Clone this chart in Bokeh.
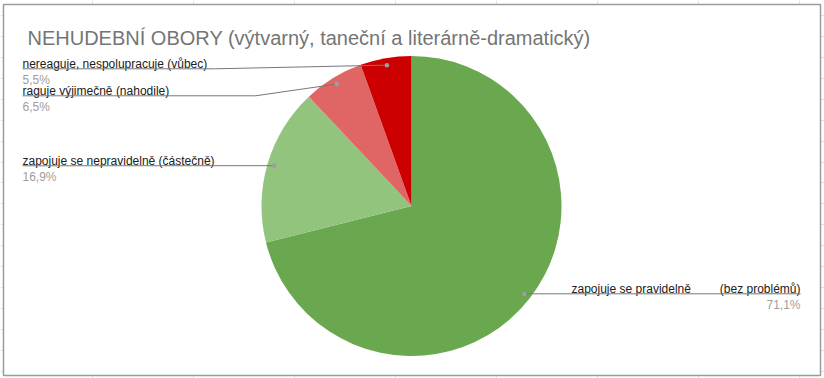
import math
from bokeh.plotting import figure
from bokeh.models import Range1d, FixedTicker, ColumnDataSource
from bokeh.core.properties import value
from bokeh.embed import file_html
from bokeh.resources import INLINE

# ---------------- data ----------------
title = "NEHUDEBNÍ OBORY (výtvarný, taneční a literárně-dramatický)"
categories = [
    "zapojuje se pravidelně (bez problémů)",
    "zapojuje se nepravidelně (částečně)",
    "raguje výjimečně (nahodile)",
    "nereaguje, nespolupracuje (vůbec)",
]
shares = [71.1, 16.9, 6.5, 5.5]
colors = ["#6aa84f", "#93c47d", "#e06666", "#cc0000"]

# ---------------- layout (screen px) ----------------
W, H = 824, 378
FONT = "Liberation Sans"
CX, CY, R = 411, 205.5, 150
DOT_R = 143
# per category: (text block left, text block right, underline y, knee x, side)
LABEL_LAYOUT = [
    (571, 800, 293.3, None, "right"),
    (22, None, 165.3, None, "left"),
    (22, None, 95.3, 255, "left"),
    (22, None, 68.3, 215, "left"),
]


def sy(y):
    return H - y


p = figure(width=W, height=H, x_range=Range1d(0, W), y_range=Range1d(0, H),
           min_border=0, toolbar_location=None, output_backend="svg",
           x_axis_location=None, y_axis_location=None)
p.outline_line_color = None
p.background_fill_color = "white"
p.border_fill_color = "white"

# spreadsheet gridlines behind the chart
p.xgrid.ticker = FixedTicker(ticks=[92 + 101 * k for k in range(-1, 9)])
p.ygrid.ticker = FixedTicker(ticks=[sy(57 + 20.9 * k) for k in range(-3, 17)])
p.xgrid.grid_line_color = "#e0e0e0"
p.ygrid.grid_line_color = "#e0e0e0"

# chart box
p.quad(left=3, right=820, top=sy(4), bottom=sy(375), fill_color="white",
       line_color="#9b9b9b", line_width=1.5)

# pie
total = sum(shares)
starts, ends, mids = [], [], []
cum = 0.0
for v in shares:
    a0 = math.pi / 2 - 2 * math.pi * cum / total
    cum += v
    a1 = math.pi / 2 - 2 * math.pi * cum / total
    starts.append(a0)
    ends.append(a1)
    mids.append((a0 + a1) / 2)

src = ColumnDataSource(dict(x=[CX] * len(shares), y=[sy(CY)] * len(shares),
                            start=starts, end=ends, color=colors))
p.wedge(x="x", y="y", radius=R, start_angle="start", end_angle="end",
        direction="clock", fill_color="color", line_color=None, source=src)

# leader lines, dots and labels
dot_x = [CX + DOT_R * math.cos(a) for a in mids]
dot_y = [sy(CY) + DOT_R * math.sin(a) for a in mids]

xs, ys = [], []
for i, (x0, x1, ly, knee, side) in enumerate(LABEL_LAYOUT):
    pct = f"{shares[i]:.1f}".replace(".", ",") + "%"
    if side == "right":
        xs.append([dot_x[i], x1])
        ys.append([sy(ly), sy(ly)])
        left_part, right_part = categories[i].split(" (")
        p.text(x=[x0], y=[sy(ly - 5)], text=[left_part], text_align="left",
               text_baseline="alphabetic", text_font=value(FONT),
               text_font_size="12px", text_color="#202020")
        p.text(x=[x1], y=[sy(ly - 5)], text=["(" + right_part], text_align="right",
               text_baseline="alphabetic", text_font=value(FONT),
               text_font_size="12px", text_color="#202020")
        p.text(x=[x1], y=[sy(ly + 11.5)], text=[pct], text_align="right",
               text_baseline="alphabetic", text_font=value(FONT),
               text_font_size="12px", text_color="#9e9e9e")
    else:
        if knee is None:
            xs.append([x0, dot_x[i]])
            ys.append([sy(ly), dot_y[i]])
        else:
            xs.append([x0, knee, dot_x[i]])
            ys.append([sy(ly), sy(ly), dot_y[i]])
        p.text(x=[x0], y=[sy(ly - 5)], text=[categories[i]], text_align="left",
               text_baseline="alphabetic", text_font=value(FONT),
               text_font_size="12px", text_color="#202020")
        p.text(x=[x0], y=[sy(ly + 11.5)], text=[pct], text_align="left",
               text_baseline="alphabetic", text_font=value(FONT),
               text_font_size="12px", text_color="#9e9e9e")

p.multi_line(xs=xs, ys=ys, line_color="#777777", line_width=1)
p.scatter(x=dot_x, y=dot_y, size=4.5, fill_color="#9e9e9e", line_color=None)

# title
p.text(x=[27], y=[sy(37.5)], text=[title], text_align="left",
       text_baseline="alphabetic", text_font=value(FONT),
       text_font_size="20px", text_color="#757575")

open("out.html", "w").write(file_html(p, INLINE))
